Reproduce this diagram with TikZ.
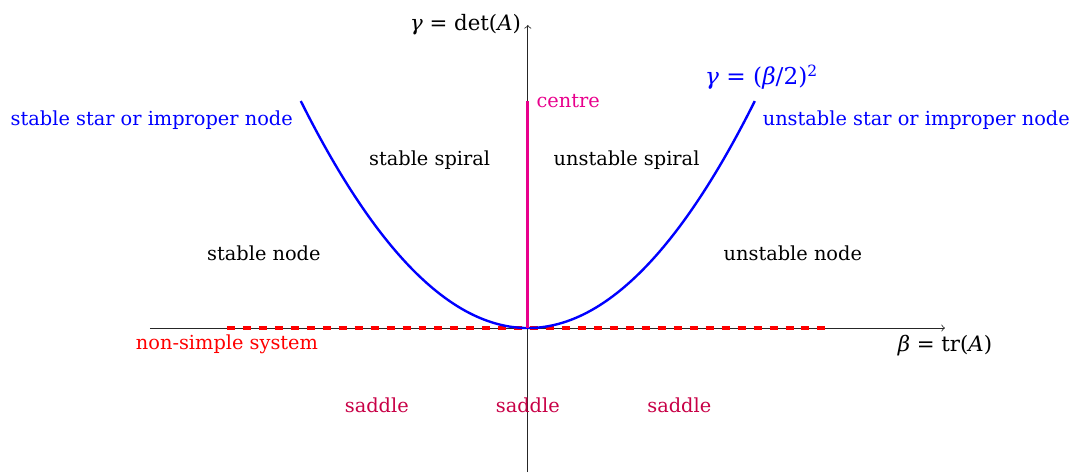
\documentclass[tikz,border=0pt]{standalone}
\usepackage{fontspec}
\setmainfont{DejaVu Serif}[Scale=0.97]
\usetikzlibrary{positioning}
\definecolor{centrepink}{RGB}{232,0,140}
\definecolor{saddlered}{RGB}{200,0,70}
\definecolor{dashred}{RGB}{255,0,0}
\newcommand{\var}[1]{\textit{#1}}
\tikzset{
  axis/.style={->,thin,draw=black!85},
  axislabel/.style={font=\fontsize{11}{13}\selectfont},
  curve/.style={line width=1.2pt,draw=blue},
  centre line/.style={line width=1.6pt,draw=centrepink},
  nonsimple/.style={line width=2pt,draw=dashred,dash pattern=on 4pt off 4pt},
  region/.style={text=black},
  bluelabel/.style={text=blue},
  saddlelabel/.style={text=saddlered}
}

\begin{document}
\begin{tikzpicture}
  \useasboundingbox (-9.30,-2.55) rectangle (9.80,5.78);

  \coordinate (origin) at (0,0);
  \coordinate (xstart) at (-6.66,0);
  \coordinate (xend) at (7.35,0);
  \coordinate (ystart) at (0,-2.54);
  \coordinate (yend) at (0,5.34);
  \coordinate (nsleft) at (-5.3,0);
  \coordinate (nsright) at (5.25,0);
  \coordinate (ctop) at (0,4);
  \coordinate (pleft) at (-4,4);
  \coordinate (pright) at (4,4);

  \draw[axis] (xstart) -- (xend);
  \draw[axis] (ystart) -- (yend);
  % degenerate line on the beta axis
  \draw[nonsimple] (nsleft) -- (nsright);
  \draw[curve] plot[domain=-4:4,samples=81,smooth] (\x,{\x*\x/4});
  \draw[centre line] (origin) -- (ctop);

  \node[axislabel,left=0pt of yend] (ylabel) {\var{γ} = det(\var{A})};
  \node[axislabel,below=0pt of xend] (xlabel) {\var{β} = tr(\var{A})};
  \node[text=centrepink,right=1pt of ctop] (centre) {centre};
  \node[bluelabel,font=\large] (parlabel) at (4.12,4.42) {\var{γ} = (\var{β}/2)\textsuperscript{2}};
  \node[bluelabel,anchor=east] (stablestar) at (-4.02,3.67) {stable star or improper node};
  \node[bluelabel,anchor=west] (unstablestar) at (4.02,3.67) {unstable star or improper node};
  \node[text=dashred,below=0pt of nsleft] (nonsimple) {non-simple system};

  \node[region] (stspiral) at (-1.73,2.96) {stable spiral};
  \node[region] (unspiral) at (1.74,2.96) {unstable spiral};
  \node[region] (stnode) at (-4.65,1.32) {stable node};
  \node[region] (unnode) at (4.67,1.32) {unstable node};

  \node[saddlelabel] (saddleleft) at (-2.66,-1.36) {saddle};
  \node[saddlelabel] (saddlemid) at (0,-1.36) {saddle};
  \node[saddlelabel] (saddleright) at (2.67,-1.36) {saddle};
\end{tikzpicture}
\end{document}
